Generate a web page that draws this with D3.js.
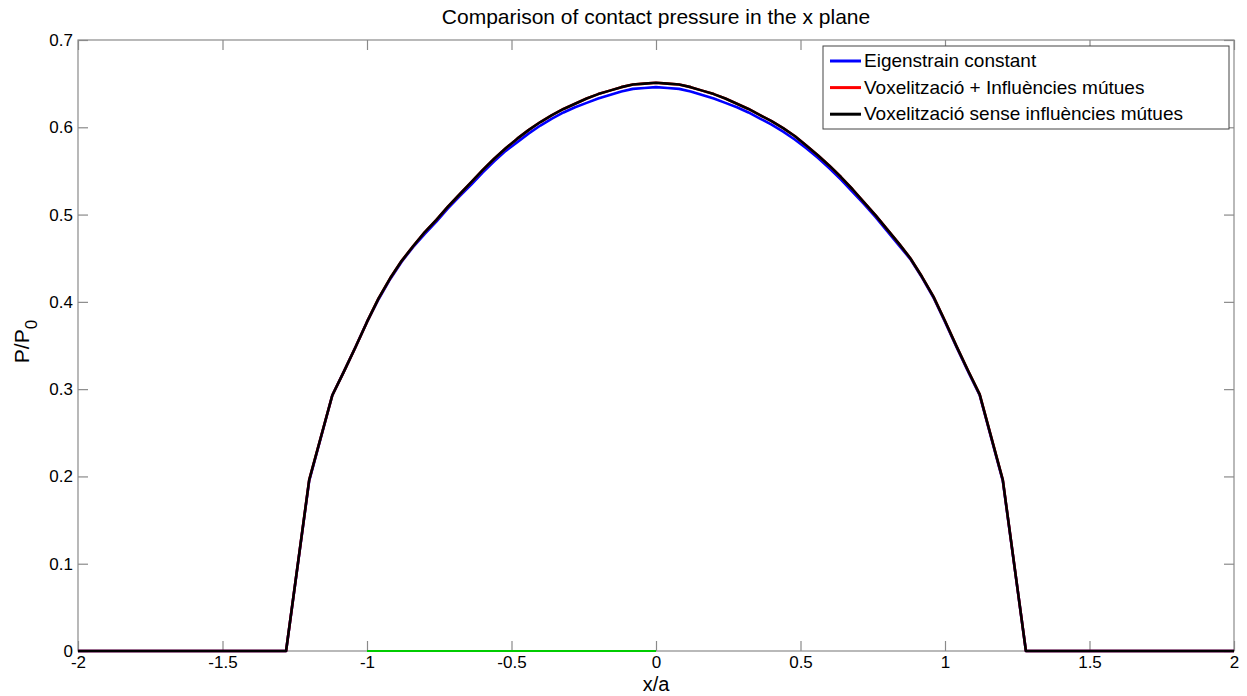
<!DOCTYPE html>
<html>
<head>
<meta charset="utf-8">
<script src="https://cdn.jsdelivr.net/npm/d3@7"></script>
<style>
  body { margin: 0; background: #fff; }
  svg text { font-family: "Liberation Sans", Arial, sans-serif; fill: #000; }
</style>
</head>
<body>
<svg id="chart" width="1247" height="696"></svg>
<script>
// x positions (x/a) of the sampled points
const xs = [-2, -1.28, -1.2, -1.12, -1.08, -1.04, -1, -0.96, -0.92, -0.88, -0.84, -0.8, -0.76, -0.72, -0.68, -0.64, -0.6,
  -0.56, -0.52, -0.48, -0.44, -0.4, -0.36, -0.32, -0.28, -0.24, -0.2, -0.16, -0.12, -0.08, -0.04, 0,
  0.04, 0.08, 0.12, 0.16, 0.2, 0.24, 0.28, 0.32, 0.36, 0.4, 0.44, 0.48, 0.52, 0.56,
  0.6, 0.64, 0.68, 0.72, 0.76, 0.8, 0.84, 0.88, 0.92, 0.96, 1, 1.04, 1.08, 1.12, 1.2, 1.28, 2]

// Eigenstrain constant
const eigenValues = [0, 0, 0.195, 0.293, 0.320, 0.348, 0.377, 0.403, 0.426, 0.446, 0.463, 0.478, 0.492, 0.507, 0.521, 0.534, 0.548,
  0.561, 0.573, 0.583, 0.593, 0.602, 0.610, 0.617, 0.623, 0.628, 0.633, 0.637, 0.641, 0.644, 0.645, 0.646,
  0.645, 0.644, 0.641, 0.637, 0.633, 0.628, 0.623, 0.617, 0.610, 0.603, 0.595, 0.586, 0.576, 0.565,
  0.553, 0.540, 0.526, 0.512, 0.497, 0.481, 0.465, 0.449, 0.428, 0.405, 0.377, 0.348, 0.320, 0.293, 0.195, 0, 0]

// Voxelització + Influències mútues
const voxelMutualValues = [0, 0, 0.196, 0.293, 0.320, 0.348, 0.377, 0.404, 0.427, 0.447, 0.464, 0.480, 0.494, 0.509, 0.523, 0.537, 0.551,
  0.564, 0.576, 0.587, 0.597, 0.606, 0.614, 0.621, 0.627, 0.633, 0.638, 0.642, 0.646, 0.649, 0.650, 0.651,
  0.650, 0.649, 0.646, 0.642, 0.638, 0.633, 0.627, 0.621, 0.614, 0.607, 0.599, 0.590, 0.579, 0.568,
  0.556, 0.543, 0.529, 0.514, 0.499, 0.483, 0.467, 0.450, 0.429, 0.406, 0.378, 0.349, 0.321, 0.294, 0.196, 0, 0]

// Voxelització sense influències mútues
const voxelValues = [0, 0, 0.196, 0.293, 0.320, 0.348, 0.377, 0.404, 0.427, 0.447, 0.464, 0.480, 0.494, 0.509, 0.523, 0.537, 0.551,
  0.564, 0.576, 0.587, 0.597, 0.606, 0.614, 0.621, 0.627, 0.633, 0.638, 0.642, 0.646, 0.649, 0.650, 0.651,
  0.650, 0.649, 0.646, 0.642, 0.638, 0.633, 0.627, 0.621, 0.614, 0.607, 0.599, 0.590, 0.579, 0.568,
  0.556, 0.543, 0.529, 0.514, 0.499, 0.483, 0.467, 0.450, 0.429, 0.406, 0.378, 0.349, 0.321, 0.294, 0.196, 0, 0]

// green segment on the x axis
const greenX = [-1, 0]
const greenValues = [0, 0]

const xTicks = [-2, -1.5, -1, -0.5, 0, 0.5, 1, 1.5, 2]
const yTicks = [0, 0.1, 0.2, 0.3, 0.4, 0.5, 0.6, 0.7]

const seriesNames = ['Eigenstrain constant', 'Voxelització + Influències mútues', 'Voxelització sense influències mútues']
const seriesColors = ['#0000ff', '#ff0000', '#000000']

const margin = { left: 78, top: 40, right: 1234, bottom: 651 }
const svg = d3.select('#chart')

const x = d3.scaleLinear().domain([-2, 2]).range([margin.left, margin.right])
const y = d3.scaleLinear().domain([0, 0.7]).range([margin.bottom, margin.top])

const axisColor = '#8a8a8a'

// box
svg.append('rect')
  .attr('x', margin.left).attr('y', margin.top)
  .attr('width', margin.right - margin.left).attr('height', margin.bottom - margin.top)
  .attr('fill', '#fff').attr('stroke', axisColor).attr('stroke-width', 1.2)

// axes with inward ticks on all sides
const tickLen = 10
const fmt = d => String(d)
svg.append('g').attr('transform', `translate(0,${margin.bottom})`)
  .call(d3.axisBottom(x).tickValues(xTicks).tickSizeInner(-tickLen).tickSizeOuter(0).tickPadding(5).tickFormat(fmt))
svg.append('g').attr('transform', `translate(0,${margin.top})`)
  .call(d3.axisTop(x).tickValues(xTicks).tickSizeInner(-tickLen).tickSizeOuter(0).tickFormat(''))
svg.append('g').attr('transform', `translate(${margin.left},0)`)
  .call(d3.axisLeft(y).tickValues(yTicks).tickSizeInner(-tickLen).tickSizeOuter(0).tickPadding(5).tickFormat(fmt))
svg.append('g').attr('transform', `translate(${margin.right},0)`)
  .call(d3.axisRight(y).tickValues(yTicks).tickSizeInner(-tickLen).tickSizeOuter(0).tickFormat(''))

svg.selectAll('.domain').remove()
svg.selectAll('.tick line').attr('stroke', axisColor).attr('stroke-width', 1.2)
svg.selectAll('.tick text').attr('font-size', 17).attr('font-family', '"Liberation Sans", Arial, sans-serif').attr('fill', '#000')

// lines
const line = d3.line().x(d => x(d[0])).y(d => y(d[1]))
const allSeries = [eigenValues, voxelMutualValues, voxelValues]
allSeries.forEach((vals, i) => {
  svg.append('path')
    .datum(xs.map((xv, j) => [xv, vals[j]]))
    .attr('d', line)
    .attr('fill', 'none')
    .attr('stroke', seriesColors[i])
    .attr('stroke-width', 2.6)
    .attr('stroke-linejoin', 'round')
})

svg.append('path')
  .datum(greenX.map((xv, j) => [xv, greenValues[j]]))
  .attr('d', line)
  .attr('fill', 'none')
  .attr('stroke', '#00cc00')
  .attr('stroke-width', 2.2)

// title and axis labels
svg.append('text')
  .attr('x', (margin.left + margin.right) / 2).attr('y', 24)
  .attr('text-anchor', 'middle').attr('font-size', 21)
  .text('Comparison of contact pressure in the x plane')

svg.append('text')
  .attr('x', (margin.left + margin.right) / 2).attr('y', 691)
  .attr('text-anchor', 'middle').attr('font-size', 20)
  .text('x/a')

const yl = svg.append('text')
  .attr('transform', `translate(29,${(margin.top + margin.bottom) / 2 - 4}) rotate(-90)`)
  .attr('text-anchor', 'middle').attr('font-size', 21)
yl.append('tspan').text('P/P')
yl.append('tspan').attr('dy', 8).attr('font-size', 17).text('0')

// legend
const legend = svg.append('g')
legend.append('rect')
  .attr('x', 823).attr('y', 46).attr('width', 406).attr('height', 83)
  .attr('fill', '#fff').attr('stroke', '#444').attr('stroke-width', 1)
seriesNames.forEach((name, i) => {
  const ly = 61 + i * 26.6
  legend.append('line')
    .attr('x1', 830).attr('x2', 861).attr('y1', ly).attr('y2', ly)
    .attr('stroke', seriesColors[i]).attr('stroke-width', 3)
  legend.append('text')
    .attr('x', 864).attr('y', ly + 6)
    .attr('font-size', 19)
    .attr('font-family', 'Lato, "Open Sans", sans-serif')
    .text(name)
})
</script>
</body>
</html>
